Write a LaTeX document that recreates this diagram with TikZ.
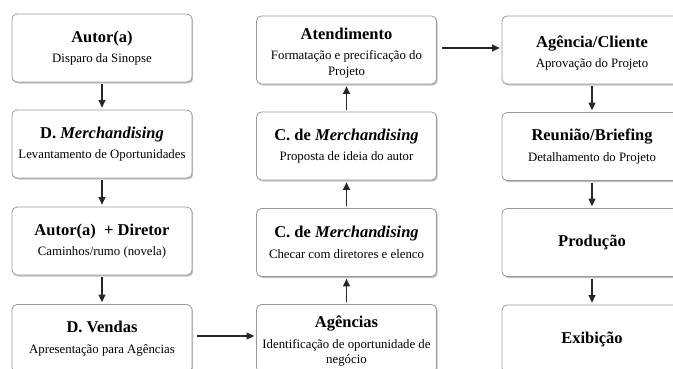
\documentclass[tikz,border=0pt]{standalone}
\usepackage{fontspec}
\setmainfont{Liberation Serif}
\usetikzlibrary{shadows,arrows.meta}
\newcommand{\ttlf}{\fontsize{16.5}{18}\selectfont\bfseries}
\newcommand{\subf}{\fontsize{12.8}{15.5}\selectfont\mdseries}
\newcommand{\bx}[2]{{\ttlf #1}\\[5pt]#2}
\newcommand{\lowr}{\rule{0pt}{17.5pt}}
\begin{document}
\begin{tikzpicture}[x=1pt,y=1pt,
  box/.style={draw=black!40, line width=0.8pt, rounded corners=5pt, fill=white,
    minimum width=180pt, minimum height=68pt, align=center, inner sep=2pt, font=\subf,
    drop shadow={shadow xshift=1.2pt, shadow yshift=-1.5pt, opacity=0.4, fill=black!60}},
  ttl/.style={font=\ttlf},
  arr/.style={-{Triangle[length=7.5pt,width=7pt]}, line width=1.1pt, black!85, shorten >=2pt, shorten <=2pt}
]
\clip (0,0) rectangle (673,-368);
\fill[white] (0,0) rectangle (673,-368);
% column 1
\node[box] (a1) at (102,-48) {\bx{Autor(a)}{Disparo da Sinopse}};
\node[box] (a2) at (102,-144) {\bx{D. \textit{Merchandising}}{Levantamento de Oportunidades}};
\node[box] (a3) at (102,-241) {\bx{Autor(a) \ + Diretor}{Caminhos/rumo (novela)}};
\node[box] (a4) at (102,-338.5) {\bx{D. Vendas}{Apresentação para Agências}};
% column 2
\node[box] (b1) at (346.5,-50) {\bx{\lowr Atendimento}{Formatação e precificação do\\Projeto}};
\node[box] (b2) at (346.5,-146) {\bx{C. de \textit{Merchandising}}{Proposta de ideia do autor}};
\node[box] (b3) at (346.5,-242.5) {\bx{C. de \textit{Merchandising}}{Checar com diretores e elenco}};
\node[box] (b4) at (346.5,-338.5) {\bx{\lowr Agências}{Identificação de oportunidade de\\negócio}};
% column 3
\node[box] (c1) at (592,-50) {\bx{\lowr Agência/Cliente}{Aprovação do Projeto}};
\node[box] (c2) at (592,-146.5) {\bx{Reunião/Briefing}{Detalhamento do Projeto}};
\node[box,ttl] (c3) at (592,-242.5) {Produção};
\node[box,ttl] (c4) at (592,-339) {Exibição};
% arrows
\draw[arr] (a1) -- (a2);
\draw[arr] (a2) -- (a3);
\draw[arr] (a3) -- (a4);
\draw[arr, shorten <=5pt] ([yshift=2.5pt]a4.east) -- ([yshift=2.5pt]b4.west);
\draw[arr] (b4) -- (b3);
\draw[arr] (b3) -- (b2);
\draw[arr] (b2) -- (b1);
\draw[arr, shorten <=5pt] ([yshift=2pt]b1.east) -- ([yshift=2pt]c1.west);
\draw[arr] (c1) -- (c2);
\draw[arr] (c2) -- (c3);
\draw[arr] (c3) -- (c4);
\end{tikzpicture}
\end{document}
